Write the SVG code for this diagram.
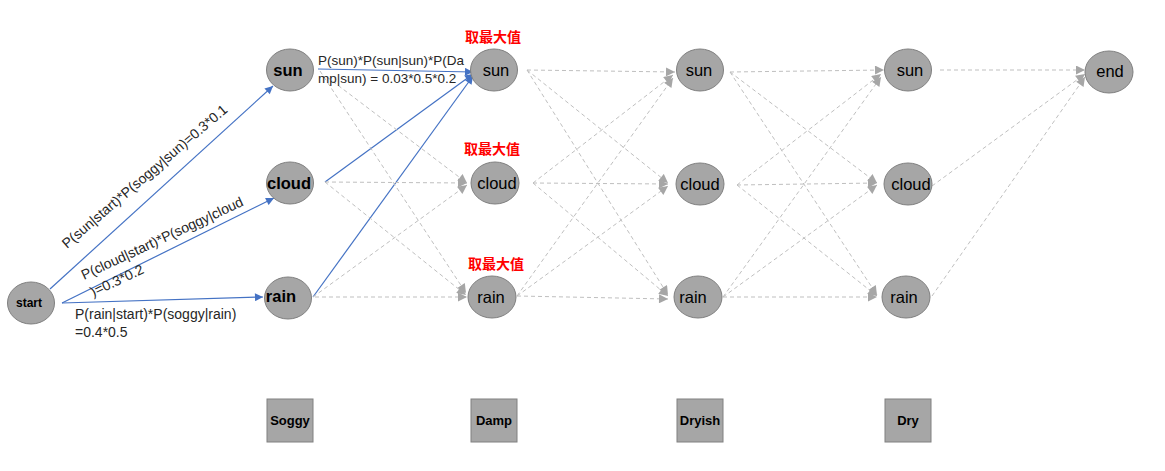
<svg xmlns="http://www.w3.org/2000/svg" width="1165" height="471" viewBox="0 0 1165 471">
<style>
.n{fill:#A6A6A6;stroke:#808080;stroke-width:1}
.t{font-family:"Liberation Sans",Arial,sans-serif;font-size:16.5px;fill:#000;text-anchor:middle}
.b{font-weight:bold}
.lab{font-family:"Liberation Sans",Arial,sans-serif;font-size:14px;fill:#262626}
.red{font-family:"Noto Sans CJK SC",sans-serif;font-size:14px;font-weight:bold;fill:#FF0000;text-anchor:middle}
.blue{stroke:#4472C4;stroke-width:1.2;fill:none;marker-end:url(#ab)}
.gray{stroke:#BFBFBF;stroke-width:1;stroke-dasharray:4 3;fill:none;marker-end:url(#ag)}
.box{fill:#A6A6A6;stroke:#808080;stroke-width:1}
.bt{font-family:"Liberation Sans",Arial,sans-serif;font-size:13px;font-weight:bold;fill:#000;text-anchor:middle}
</style>
<defs>
<marker id="ab" viewBox="0 0 10 10" refX="10" refY="5" markerWidth="10" markerHeight="8" orient="auto" markerUnits="userSpaceOnUse"><path d="M0,0 L10,5 L0,10 z" fill="#4472C4"/></marker>
<marker id="ag" viewBox="0 0 10 10" refX="10" refY="5" markerWidth="10" markerHeight="9" orient="auto" markerUnits="userSpaceOnUse"><path d="M0,0 L10,5 L0,10 z" fill="#A6A6A6"/></marker>
</defs>
<rect width="1165" height="471" fill="#fff"/>
<g id="connectors">
<path class="blue" d="M50,289 L273,86"/>
<path class="blue" d="M62,303 L274,198"/>
<path class="blue" d="M62,303 L263,297"/>
<path class="blue" d="M318,69 L473,72"/>
<path class="blue" d="M325,182 L473,74"/>
<path class="blue" d="M313,297 L473,76"/>
<path class="gray" d="M327,77 L467,183"/>
<path class="gray" d="M320,71 L466,293"/>
<path class="gray" d="M325,182 L467,183"/>
<path class="gray" d="M325,182 L466,295"/>
<path class="gray" d="M313,297 L467,185"/>
<path class="gray" d="M315,297 L467,297"/>
<path class="gray" d="M527,70 L675,72"/>
<path class="gray" d="M527,70 L668,183"/>
<path class="gray" d="M527,70 L668,295"/>
<path class="gray" d="M533,183 L673,75"/>
<path class="gray" d="M533,183 L668,184"/>
<path class="gray" d="M533,183 L668,296"/>
<path class="gray" d="M517,296 L673,78"/>
<path class="gray" d="M517,296 L668,186"/>
<path class="gray" d="M517,296 L668,299"/>
<path class="gray" d="M730,72 L884,70"/>
<path class="gray" d="M730,72 L877,183"/>
<path class="gray" d="M730,72 L877,295"/>
<path class="gray" d="M737,185 L881,74"/>
<path class="gray" d="M737,185 L877,183"/>
<path class="gray" d="M737,185 L877,296"/>
<path class="gray" d="M723,297 L881,77"/>
<path class="gray" d="M723,297 L877,185"/>
<path class="gray" d="M723,297 L877,297"/>
<path class="gray" d="M940,70 L1085,70"/>
<path class="gray" d="M932,186 L1085,74"/>
<path class="gray" d="M932,296 L1085,77"/>
</g>
<g id="labels">
<text class="lab" transform="translate(67,249) rotate(-40.5)">P(sun|start)*P(soggy|sun)=0.3*0.1</text>
<text class="lab" transform="translate(84,280) rotate(-25)">P(cloud|start)*P(soggy|cloud</text>
<text class="lab" transform="translate(93,297) rotate(-25)">)=0.3*0.2</text>
<text class="lab" x="75" y="319">P(rain|start)*P(soggy|rain)</text>
<text class="lab" x="75" y="337">=0.4*0.5</text>
<text class="lab" x="318" y="65" style="font-size:13.5px">P(sun)*P(sun|sun)*P(Da</text>
<text class="lab" x="318" y="83" style="font-size:13.5px">mp|sun) = 0.03*0.5*0.2</text>
<text class="red" x="493" y="42">取最大值</text>
<text class="red" x="492" y="154">取最大值</text>
<text class="red" x="496" y="269">取最大值</text>
</g>
<g id="start"><ellipse class="n" cx="31" cy="303" rx="23.5" ry="21"/><text class="t b" x="29" y="307" style="font-size:12px">start</text></g>
<g id="s1"><ellipse class="n" cx="290" cy="70" rx="23.5" ry="21"/><text class="t b" x="288" y="76">sun</text></g>
<g id="c1"><ellipse class="n" cx="290" cy="183" rx="23.5" ry="21"/><text class="t b" x="289" y="189">cloud</text></g>
<g id="r1"><ellipse class="n" cx="288" cy="298" rx="23.5" ry="21"/><text class="t b" x="281" y="302">rain</text></g>
<g id="s2"><ellipse class="n" cx="494" cy="70" rx="23.5" ry="21"/><text class="t" x="496" y="76">sun</text></g>
<g id="c2"><ellipse class="n" cx="495" cy="183" rx="24" ry="21"/><text class="t" x="497" y="189">cloud</text></g>
<g id="r2"><ellipse class="n" cx="492" cy="297" rx="24" ry="21"/><text class="t" x="491" y="303">rain</text></g>
<g id="s3"><ellipse class="n" cx="700" cy="70" rx="23.5" ry="21"/><text class="t" x="699" y="76">sun</text></g>
<g id="c3"><ellipse class="n" cx="700" cy="184" rx="24" ry="21"/><text class="t" x="700" y="190">cloud</text></g>
<g id="r3"><ellipse class="n" cx="698" cy="297" rx="24" ry="21"/><text class="t" x="693" y="303">rain</text></g>
<g id="s4"><ellipse class="n" cx="908" cy="70" rx="23.5" ry="21"/><text class="t" x="910" y="76">sun</text></g>
<g id="c4"><ellipse class="n" cx="908" cy="184" rx="24" ry="21"/><text class="t" x="911" y="190">cloud</text></g>
<g id="r4"><ellipse class="n" cx="906" cy="297" rx="24" ry="21"/><text class="t" x="904" y="303">rain</text></g>
<g id="end"><ellipse class="n" cx="1109" cy="72" rx="24" ry="21"/><text class="t" x="1110" y="77">end</text></g>
<g id="soggy"><rect class="box" x="267" y="399" width="46" height="43"/><text class="bt" x="290" y="425">Soggy</text></g>
<g id="damp"><rect class="box" x="471" y="399" width="46" height="43"/><text class="bt" x="494" y="425">Damp</text></g>
<g id="dryish"><rect class="box" x="677" y="399" width="46" height="43"/><text class="bt" x="700" y="425">Dryish</text></g>
<g id="dry"><rect class="box" x="885" y="399" width="46" height="43"/><text class="bt" x="908" y="425">Dry</text></g>
</svg>
